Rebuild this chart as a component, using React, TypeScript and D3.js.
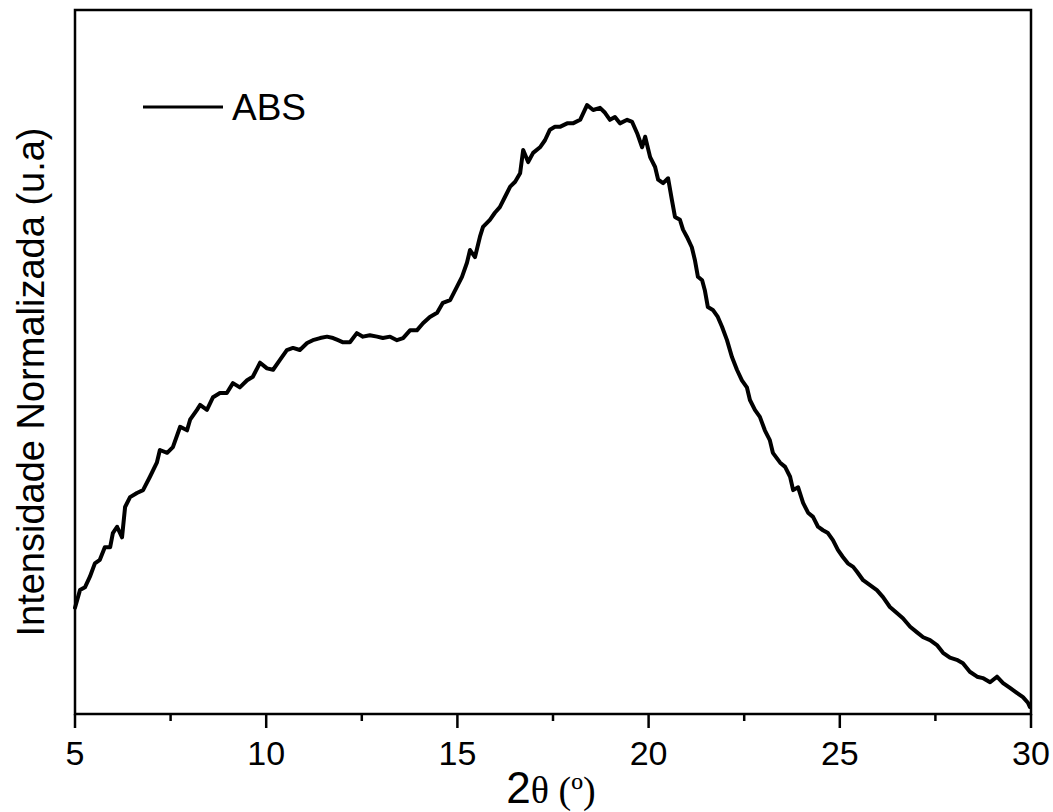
import React from "react";
import * as d3 from "d3";

const twoTheta = [5.00,5.13,5.26,5.39,5.52,5.65,5.78,5.92,5.99,6.10,6.23,6.31,6.44,6.62,6.78,6.96,7.14,7.22,7.41,7.56,7.75,7.93,8.01,8.19,8.27,8.45,8.61,8.79,8.97,9.13,9.31,9.50,9.65,9.84,10.02,10.18,10.36,10.54,10.70,10.88,11.07,11.22,11.41,11.59,11.75,11.88,12.01,12.19,12.37,12.53,12.71,12.90,13.05,13.24,13.42,13.58,13.76,13.94,14.10,14.28,14.47,14.62,14.81,14.99,15.12,15.25,15.33,15.46,15.59,15.67,15.85,15.98,16.11,16.24,16.38,16.51,16.64,16.72,16.85,16.98,17.16,17.29,17.42,17.55,17.68,17.87,18.02,18.21,18.39,18.55,18.73,18.86,18.99,19.12,19.25,19.44,19.57,19.70,19.83,19.91,20.04,20.17,20.25,20.38,20.51,20.61,20.69,20.82,20.90,21.00,21.13,21.21,21.29,21.40,21.47,21.55,21.68,21.81,21.92,22.05,22.18,22.31,22.44,22.57,22.65,22.78,22.91,23.04,23.17,23.25,23.44,23.57,23.70,23.78,23.91,24.04,24.17,24.30,24.43,24.56,24.69,24.82,24.95,25.08,25.21,25.35,25.45,25.61,25.79,25.97,26.13,26.31,26.50,26.65,26.84,27.02,27.18,27.36,27.54,27.70,27.88,28.06,28.22,28.40,28.59,28.74,28.93,29.11,29.27,29.45,29.63,29.79,29.92,29.97];

const intensity = [0.151,0.176,0.180,0.195,0.214,0.219,0.237,0.237,0.257,0.266,0.251,0.294,0.308,0.314,0.318,0.337,0.357,0.375,0.371,0.379,0.408,0.403,0.418,0.432,0.439,0.432,0.450,0.456,0.456,0.470,0.464,0.474,0.479,0.499,0.491,0.489,0.503,0.517,0.520,0.517,0.527,0.531,0.534,0.536,0.534,0.531,0.528,0.528,0.541,0.536,0.538,0.536,0.534,0.536,0.531,0.534,0.545,0.545,0.555,0.564,0.570,0.584,0.588,0.607,0.621,0.641,0.659,0.649,0.678,0.692,0.702,0.712,0.720,0.734,0.749,0.756,0.768,0.801,0.784,0.797,0.805,0.815,0.830,0.834,0.834,0.839,0.839,0.844,0.865,0.858,0.861,0.854,0.844,0.848,0.839,0.844,0.841,0.825,0.805,0.820,0.791,0.777,0.759,0.754,0.761,0.730,0.706,0.702,0.688,0.678,0.663,0.645,0.621,0.616,0.602,0.578,0.574,0.564,0.550,0.531,0.507,0.489,0.474,0.464,0.446,0.432,0.422,0.403,0.389,0.371,0.357,0.351,0.337,0.318,0.322,0.300,0.286,0.280,0.266,0.261,0.257,0.247,0.233,0.223,0.214,0.209,0.202,0.190,0.183,0.176,0.166,0.152,0.143,0.136,0.124,0.116,0.109,0.105,0.098,0.087,0.080,0.077,0.072,0.060,0.053,0.051,0.045,0.053,0.044,0.037,0.030,0.024,0.016,0.010];

const xTicksMajor = [5, 10, 15, 20, 25, 30];
const xTicksMinor = [7.5, 12.5, 17.5, 22.5, 27.5];
const seriesName = "ABS";
const xTitleMain = "2";
const xTitleRest = "\u03b8 (\u00ba)";
const yTitle = "Intensidade Normalizada (u.a)";

export default function App() {
  const W = 1053, H = 812;
  const L = 75, R = 1031, T = 10, B = 714;
  const x = d3.scaleLinear().domain([5, 30]).range([L, R]);
  const y = d3.scaleLinear().domain([0, 1]).range([B, T]);
  const data = twoTheta.map((t, i) => [t, intensity[i]] as [number, number]);
  const line = d3.line<[number, number]>().x(d => x(d[0])).y(d => y(d[1])).curve(d3.curveLinear);
  const sans = "'Liberation Sans', Arial, sans-serif";
  const serif = "'Liberation Serif', 'Times New Roman', serif";
  return (
    <svg width={W} height={H} style={{ position: "absolute", left: 0, top: 0, background: "#fff" }}>
      <rect x={0} y={0} width={W} height={H} fill="#fff" />
      <path d={line(data) || ""} fill="none" stroke="#000" strokeWidth={4} strokeLinejoin="round" strokeLinecap="round" />
      <rect x={L} y={T} width={R - L} height={B - T} fill="none" stroke="#000" strokeWidth={2.5} />
      {xTicksMajor.map(t => (
        <g key={"M" + t}>
          <line x1={x(t)} x2={x(t)} y1={B} y2={B + 14} stroke="#000" strokeWidth={2.5} />
          <text x={x(t)} y={765} textAnchor="middle" fontFamily={sans} fontSize={34}>{t}</text>
        </g>
      ))}
      {xTicksMinor.map(t => (
        <line key={"m" + t} x1={x(t)} x2={x(t)} y1={B} y2={B + 7} stroke="#000" strokeWidth={2.5} />
      ))}
      <text x={551} y={803} textAnchor="middle">
        <tspan fontFamily={sans} fontSize={44}>{xTitleMain}</tspan>
        <tspan fontFamily={serif} fontSize={38}>{xTitleRest}</tspan>
      </text>
      <text transform={`translate(44,382) rotate(-90)`} textAnchor="middle" fontFamily={sans} fontSize={38}>{yTitle}</text>
      <line x1={143} x2={223} y1={107} y2={107} stroke="#000" strokeWidth={3.2} />
      <text x={232} y={120} fontFamily={sans} fontSize={37}>{seriesName}</text>
    </svg>
  );
}
